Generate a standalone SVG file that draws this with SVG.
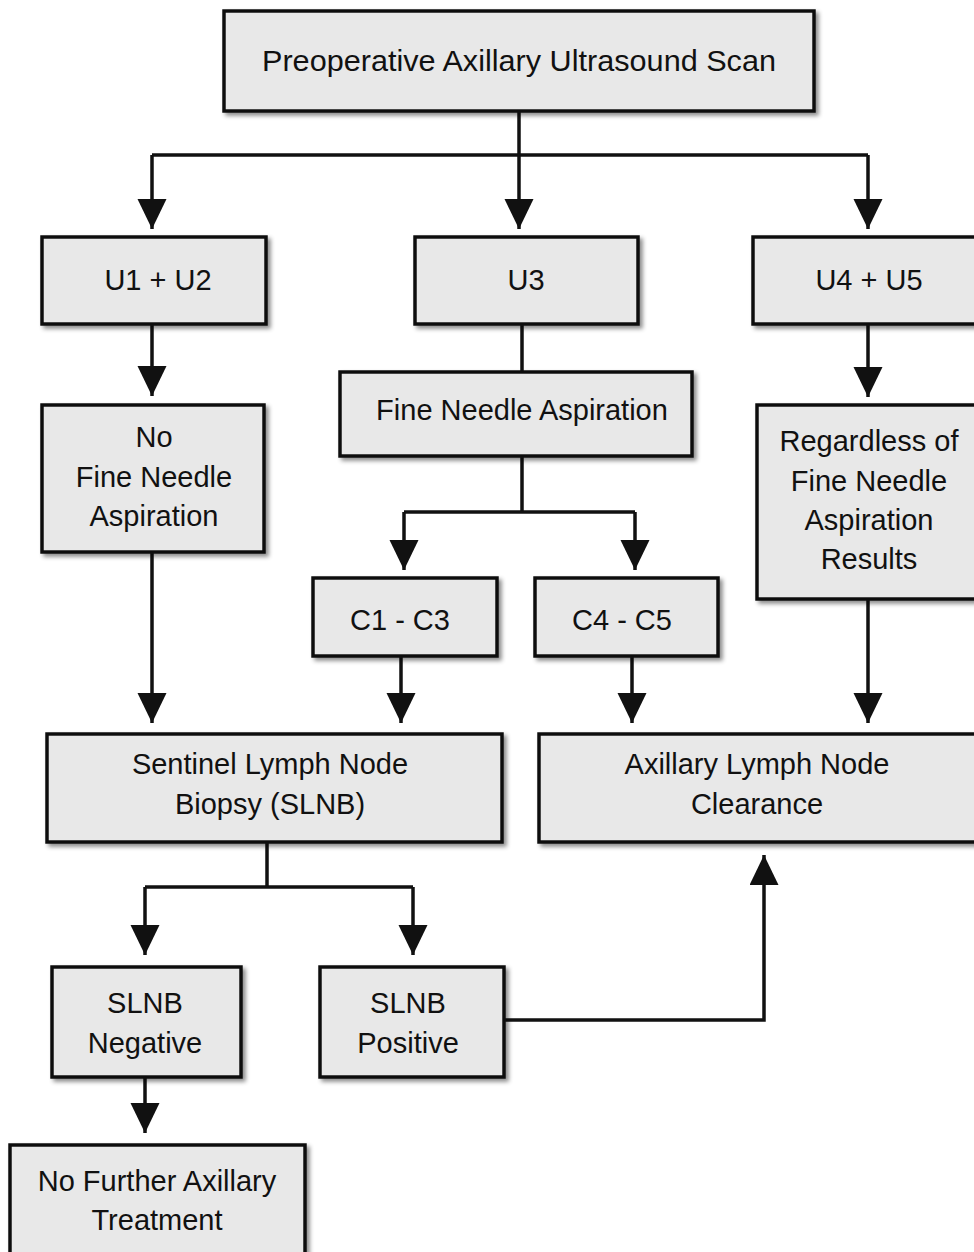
<svg xmlns="http://www.w3.org/2000/svg" width="974" height="1252" viewBox="0 0 974 1252">
<style>
.box{fill:#e8e8e8;stroke:#111;stroke-width:3.5;filter:url(#sh)}
.t{font-family:"Liberation Sans",Arial,sans-serif;font-size:29px;fill:#111;text-anchor:middle}
.c{fill:none;stroke:#111;stroke-width:3.5}
</style>
<defs>
<filter id="sh" x="-10%" y="-10%" width="130%" height="130%">
<feDropShadow dx="3" dy="3" stdDeviation="2" flood-color="#000" flood-opacity="0.45"/>
</filter>
<marker id="ah" markerUnits="userSpaceOnUse" markerWidth="31" markerHeight="30" refX="30" refY="14.5" orient="auto" viewBox="0 0 31 30">
<path d="M0,0 L30,14.5 L0,29 z" fill="#111"/>
</marker>
</defs>
<rect width="974" height="1252" fill="#fff"/>
<g id="connectors">
<path class="c" d="M519,111 V155"/>
<path class="c" d="M152,155 H868"/>
<path class="c" d="M152,155 V229" marker-end="url(#ah)"/>
<path class="c" d="M519,155 V229" marker-end="url(#ah)"/>
<path class="c" d="M868,155 V229" marker-end="url(#ah)"/>
<path class="c" d="M152,324 V396" marker-end="url(#ah)"/>
<path class="c" d="M522,324 V372"/>
<path class="c" d="M868,324 V397" marker-end="url(#ah)"/>
<path class="c" d="M522,456 V512"/>
<path class="c" d="M404,512 H635"/>
<path class="c" d="M404,512 V570" marker-end="url(#ah)"/>
<path class="c" d="M635,512 V570" marker-end="url(#ah)"/>
<path class="c" d="M152,552 V723" marker-end="url(#ah)"/>
<path class="c" d="M401,656 V723" marker-end="url(#ah)"/>
<path class="c" d="M632,656 V723" marker-end="url(#ah)"/>
<path class="c" d="M868,599 V723" marker-end="url(#ah)"/>
<path class="c" d="M267,842 V887"/>
<path class="c" d="M145,887 H413"/>
<path class="c" d="M145,887 V955" marker-end="url(#ah)"/>
<path class="c" d="M413,887 V955" marker-end="url(#ah)"/>
<path class="c" d="M504,1020 H764 V855" marker-end="url(#ah)"/>
<path class="c" d="M145,1077 V1133" marker-end="url(#ah)"/>
</g>
<g id="n-scan"><rect class="box" x="224" y="11" width="590" height="100"/><text class="t" x="519" y="71" textLength="514" lengthAdjust="spacingAndGlyphs">Preoperative Axillary Ultrasound Scan</text></g>
<g id="n-u12"><rect class="box" x="42" y="237" width="224" height="87"/><text class="t" x="158" y="290">U1 + U2</text></g>
<g id="n-u3"><rect class="box" x="415" y="237" width="223" height="87"/><text class="t" x="526" y="290">U3</text></g>
<g id="n-u45"><rect class="box" x="753" y="237" width="230" height="87"/><text class="t" x="869" y="290">U4 + U5</text></g>
<g id="n-nofna"><rect class="box" x="42" y="405" width="222" height="147"/><text class="t" x="154" y="447">No</text><text class="t" x="154" y="487">Fine Needle</text><text class="t" x="154" y="526">Aspiration</text></g>
<g id="n-fna"><rect class="box" x="340" y="372" width="352" height="84"/><text class="t" x="522" y="420">Fine Needle Aspiration</text></g>
<g id="n-regardless"><rect class="box" x="757" y="405" width="226" height="194"/><text class="t" x="869" y="451">Regardless of</text><text class="t" x="869" y="491">Fine Needle</text><text class="t" x="869" y="530">Aspiration</text><text class="t" x="869" y="569">Results</text></g>
<g id="n-c13"><rect class="box" x="313" y="578" width="184" height="78"/><text class="t" x="400" y="630">C1 - C3</text></g>
<g id="n-c45"><rect class="box" x="535" y="578" width="183" height="78"/><text class="t" x="622" y="630">C4 - C5</text></g>
<g id="n-slnb"><rect class="box" x="47" y="734" width="455" height="108"/><text class="t" x="270" y="774">Sentinel Lymph Node</text><text class="t" x="270" y="814">Biopsy (SLNB)</text></g>
<g id="n-alnc"><rect class="box" x="539" y="734" width="444" height="108"/><text class="t" x="757" y="774">Axillary Lymph Node</text><text class="t" x="757" y="814">Clearance</text></g>
<g id="n-neg"><rect class="box" x="52" y="967" width="189" height="110"/><text class="t" x="145" y="1013">SLNB</text><text class="t" x="145" y="1053">Negative</text></g>
<g id="n-pos"><rect class="box" x="320" y="967" width="184" height="110"/><text class="t" x="408" y="1013">SLNB</text><text class="t" x="408" y="1053">Positive</text></g>
<g id="n-nofurther"><rect class="box" x="10" y="1145" width="295" height="120"/><text class="t" x="157" y="1191">No Further Axillary</text><text class="t" x="157" y="1230">Treatment</text></g>
</svg>
